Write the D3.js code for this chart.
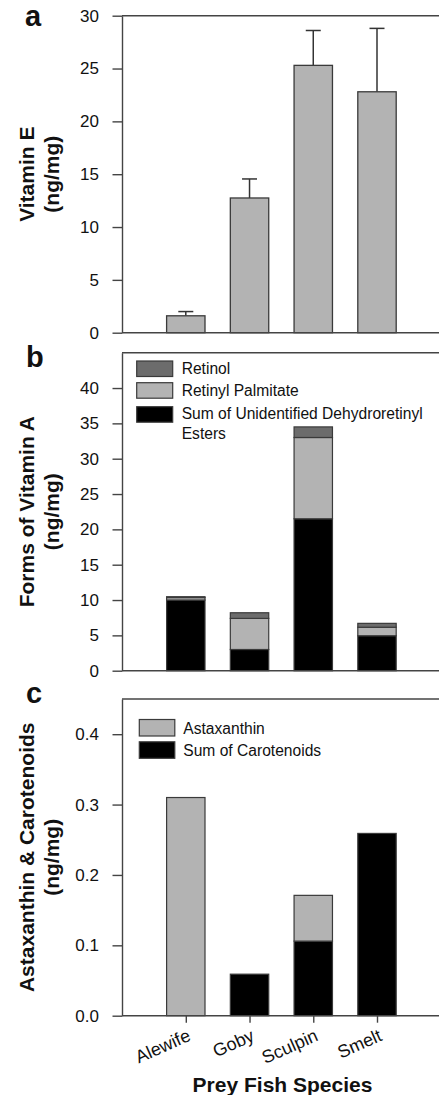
<!DOCTYPE html>
<html>
<head>
<meta charset="utf-8">
<script src="https://cdn.jsdelivr.net/npm/d3@7"></script>
<style>
  html, body { margin: 0; padding: 0; background: #fff; }
  svg { display: block; }
  text { font-family: "Liberation Sans", Arial, sans-serif; fill: #111; }
</style>
</head>
<body>
<svg id="chart" width="439" height="1095"></svg>
<script>
// ---------------- DATA ----------------
const species = ["Alewife", "Goby", "Sculpin", "Smelt"];

// Panel a: Vitamin E (ng/mg), mean and upper error
const vitaminE = [1.6, 12.75, 25.3, 22.8];
const vitaminEErr = [0.4, 1.8, 3.3, 6.0];
const ticksA = [0, 5, 10, 15, 20, 25, 30];

// Panel b: forms of vitamin A (ng/mg), stacked bottom -> top
const dehydroretinylEsters = [10.0, 3.0, 21.5, 4.95];
const retinylPalmitate = [0.35, 4.4, 11.5, 1.2];
const retinol = [0.12, 0.8, 1.5, 0.55];
const ticksB = [0, 5, 10, 15, 20, 25, 30, 35, 40];
const legendB = ["Retinol", "Retinyl Palmitate", "Sum of Unidentified Dehydroretinyl", "Esters"];

// Panel c: astaxanthin & carotenoids (ng/mg), stacked bottom -> top
const sumCarotenoids = [0.0, 0.059, 0.106, 0.259];
const astaxanthin = [0.31, 0.0, 0.065, 0.0];
const ticksC = [0.0, 0.1, 0.2, 0.3, 0.4];
const legendC = ["Astaxanthin", "Sum of Carotenoids"];

// ---------------- STYLE ----------------
const LIGHT = "#b3b3b3", DARK = "#6c6c6c", BLACK = "#000000";
const STROKE = "#3a3a3a", AXIS = "#444";

const svg = d3.select("#chart");
const axisX = 122, rightX = 440;
const x = d3.scalePoint().domain(species).range([185.8, 377]);
const barW = 38.4;

function drawAxis(y, ticks, fmt, top, bottom) {
  const g = svg.append("g").attr("transform", `translate(${axisX},0)`);
  g.call(d3.axisLeft(y).tickValues(ticks).tickFormat(fmt)
      .tickSize(9.5).tickSizeOuter(0).tickPadding(13.5));
  g.select(".domain").attr("stroke", AXIS).attr("stroke-width", 1.4);
  g.selectAll(".tick line").attr("stroke", AXIS).attr("stroke-width", 1.4);
  g.selectAll(".tick text").attr("font-size", 17)
    .attr("font-family", "Liberation Sans, Arial, sans-serif").attr("fill", "#111");
  // frame lines (top and bottom) extending right
  svg.append("line").attr("x1", axisX).attr("x2", rightX).attr("y1", top).attr("y2", top)
    .attr("stroke", AXIS).attr("stroke-width", 1.4);
  svg.append("line").attr("x1", axisX).attr("x2", rightX).attr("y1", bottom).attr("y2", bottom)
    .attr("stroke", AXIS).attr("stroke-width", 1.4);
}

function yTitle(lines, center) {
  const xs = [34, 59];
  lines.forEach((t, i) => {
    svg.append("text")
      .attr("transform", `translate(${xs[i]},${center}) rotate(-90)`)
      .attr("text-anchor", "middle").attr("font-size", 21).attr("font-weight", "bold")
      .text(t);
  });
}

function panelLetter(t, px, py) {
  svg.append("text").attr("x", px).attr("y", py).attr("font-size", 29)
    .attr("font-weight", "bold").text(t);
}

// ---------------- PANEL A ----------------
const yA = d3.scaleLinear().domain([0, 30]).range([332.7, 15.7]);
// error bars
species.forEach((s, i) => {
  const cx = x(s);
  svg.append("line").attr("x1", cx).attr("x2", cx)
    .attr("y1", yA(vitaminE[i])).attr("y2", yA(vitaminE[i] + vitaminEErr[i]))
    .attr("stroke", "#333").attr("stroke-width", 1.5);
  svg.append("line").attr("x1", cx - 7.5).attr("x2", cx + 7.5)
    .attr("y1", yA(vitaminE[i] + vitaminEErr[i])).attr("y2", yA(vitaminE[i] + vitaminEErr[i]))
    .attr("stroke", "#333").attr("stroke-width", 1.5);
});
svg.append("g").selectAll("rect").data(species).join("rect")
  .attr("x", d => x(d) - barW / 2).attr("width", barW)
  .attr("y", (d, i) => yA(vitaminE[i]))
  .attr("height", (d, i) => yA(0) - yA(vitaminE[i]))
  .attr("fill", LIGHT).attr("stroke", STROKE).attr("stroke-width", 1.3);
drawAxis(yA, ticksA, d3.format("d"), 15.7, 332.7);
yTitle(["Vitamin E", "(ng/mg)"], 174.2);
panelLetter("a", 25, 26);

// ---------------- PANEL B ----------------
const yB = d3.scaleLinear().domain([0, 45]).range([670.7, 352.7]);
const seriesB = [
  { vals: dehydroretinylEsters, color: BLACK },
  { vals: retinylPalmitate, color: LIGHT },
  { vals: retinol, color: DARK }
];
species.forEach((s, i) => {
  let base = 0;
  seriesB.forEach(ser => {
    const v = ser.vals[i];
    if (v > 0) {
      svg.append("rect").attr("x", x(s) - barW / 2).attr("width", barW)
        .attr("y", yB(base + v)).attr("height", yB(base) - yB(base + v))
        .attr("fill", ser.color).attr("stroke", STROKE).attr("stroke-width", 1.2);
    }
    base += v;
  });
});
drawAxis(yB, ticksB, d3.format("d"), 352.7, 670.7);
yTitle(["Forms of Vitamin A", "(ng/mg)"], 511.7);
panelLetter("b", 26, 367);
// legend b
const legBColors = [DARK, LIGHT, BLACK];
const legBBoxY = [361, 382.7, 406.7];
legBColors.forEach((c, i) => {
  svg.append("rect").attr("x", 136.7).attr("y", legBBoxY[i]).attr("width", 36).attr("height", 15.5)
    .attr("fill", c).attr("stroke", STROKE).attr("stroke-width", 1.2);
});
const legBTextY = [373.5, 395.7, 419.3, 439.3];
legendB.forEach((t, i) => {
  svg.append("text").attr("x", 181.7).attr("y", legBTextY[i]).attr("font-size", 15.6).text(t);
});

// ---------------- PANEL C ----------------
const yC = d3.scaleLinear().domain([0, 0.45]).range([1015.7, 699]);
const seriesC = [
  { vals: sumCarotenoids, color: BLACK },
  { vals: astaxanthin, color: LIGHT }
];
species.forEach((s, i) => {
  let base = 0;
  seriesC.forEach(ser => {
    const v = ser.vals[i];
    if (v > 0) {
      svg.append("rect").attr("x", x(s) - barW / 2).attr("width", barW)
        .attr("y", yC(base + v)).attr("height", yC(base) - yC(base + v))
        .attr("fill", ser.color).attr("stroke", STROKE).attr("stroke-width", 1.2);
    }
    base += v;
  });
});
drawAxis(yC, ticksC, d3.format(".1f"), 699, 1015.7);
yTitle(["Astaxanthin & Carotenoids", "(ng/mg)"], 857.3);
panelLetter("c", 26, 703);
// legend c
const legCColors = [LIGHT, BLACK];
const legCBoxY = [719.5, 741.8];
legCColors.forEach((c, i) => {
  svg.append("rect").attr("x", 139.3).attr("y", legCBoxY[i]).attr("width", 35.5).attr("height", 16.5)
    .attr("fill", c).attr("stroke", STROKE).attr("stroke-width", 1.2);
});
const legCTextY = [733.5, 755.5];
legendC.forEach((t, i) => {
  svg.append("text").attr("x", 183.3).attr("y", legCTextY[i]).attr("font-size", 15.6).text(t);
});

// x axis ticks & labels (panel c)
const gx = svg.append("g").attr("transform", "translate(0,1015.7)");
gx.call(d3.axisBottom(x).tickSize(7).tickSizeOuter(0).tickFormat(""));
gx.select(".domain").remove();
gx.selectAll(".tick line").attr("stroke", AXIS).attr("stroke-width", 1.4);
species.forEach(s => {
  svg.append("text")
    .attr("transform", `translate(${x(s) + 6},1040) rotate(-24)`)
    .attr("text-anchor", "end").attr("font-size", 18).text(s);
});
svg.append("text").attr("x", 282.5).attr("y", 1092).attr("text-anchor", "middle")
  .attr("font-size", 21).attr("font-weight", "bold").text("Prey Fish Species");
</script>
</body>
</html>
